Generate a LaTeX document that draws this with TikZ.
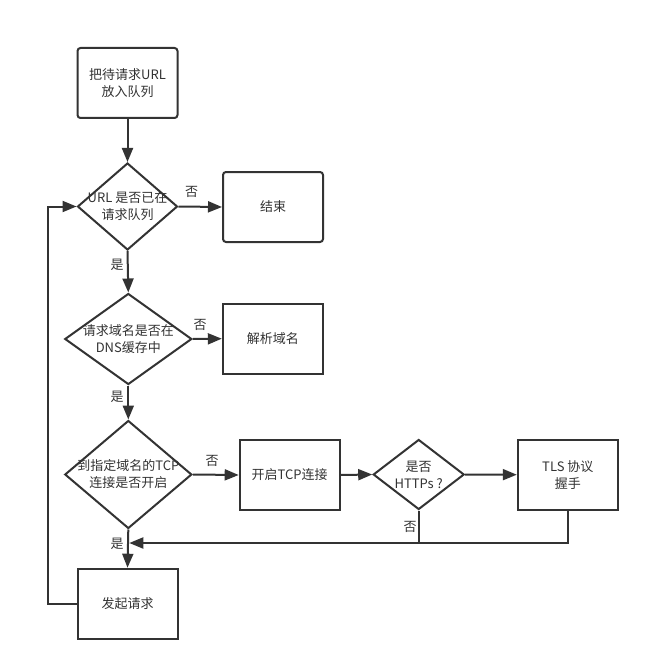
\documentclass[tikz,border=0pt]{standalone}
\usepackage{fontspec}
\setmainfont{Noto Sans CJK SC}
\usetikzlibrary{shapes.geometric,arrows.meta}
\definecolor{ink}{HTML}{333333}
\begin{document}
\begin{tikzpicture}[x=1pt,y=-1pt,
  every node/.style={font=\fontsize{13pt}{17pt}\selectfont, text=ink},
  box/.style={draw=ink, line width=2pt, rectangle, minimum width=100pt, minimum height=70pt, align=center, inner sep=0pt},
  rbox/.style={box, rounded corners=3pt},
  dia/.style={draw=ink, line width=2pt, diamond, inner sep=0pt},
  lab/.style={inner sep=0pt},
  conn/.style={draw=ink, line width=2pt},
  arr/.style={conn, -{Triangle[length=14pt,width=11pt]}}
]
\useasboundingbox[fill=white] (0,0) rectangle (650,671);

\node[rbox] (n1) at (127.5,83) {把待请求URL\\放入队列};
\node[dia, minimum width=100pt, minimum height=87pt,
  label={[align=center]center:URL 是否已在\\请求队列}] (d1) at (127.5,206.5) {};
\node[rbox] (end) at (273,207) {结束};
\node[dia, minimum width=127pt, minimum height=91pt,
  label={[align=center]center:请求域名是否在\\DNS缓存中}] (d2) at (128.3,339) {};
\node[box] (parse) at (272.8,338.7) {解析域名};
\node[dia, minimum width=127pt, minimum height=108pt,
  label={[align=center]center:到指定域名的TCP\\连接是否开启}] (d3) at (128.3,474.5) {};
\node[box] (tcp) at (289.7,475) {开启TCP连接};
\node[dia, minimum width=91pt, minimum height=70pt,
  label={[align=center]center:是否\\HTTPs ?}] (d4) at (418.7,474.5) {};
\node[box] (tls) at (567.8,474.7) {TLS 协议\\握手};
\node[box] (req) at (127.5,603.7) {发起请求};

\coordinate (j) at (128.3,543);
\coordinate (lp) at (47.5,603.7);

\node[lab] (l1) at (191.5,192) {否};
\node[lab] (l2) at (117,265) {是};
\node[lab] (l3) at (200,325) {否};
\node[lab] (l4) at (117,397) {是};
\node[lab] (l5) at (212,461) {否};
\node[lab] (l6) at (410,527) {否};
\node[lab] (l7) at (117,544) {是};

\draw[arr] (n1.south) -- (d1.north);
\draw[arr] (d1.east) -- (end.west);
\draw[arr] (d1.south) -- (d2.north);
\draw[arr] (d2.east) -- (parse.west);
\draw[arr] (d2.south) -- (d3.north);
\draw[arr] (d3.east) -- (tcp.west);
\draw[arr] (tcp.east) -- (d4.west);
\draw[arr] (d4.east) -- (tls.west);
\draw[arr] (d3.south) -- (req.north);
\draw[arr] (tls.south) |- ([xshift=1pt]j);
\draw[conn] (d4.south) -- (d4.south |- j);
\draw[arr] (req.west) -- (lp) |- (d1.west);
\end{tikzpicture}
\end{document}
